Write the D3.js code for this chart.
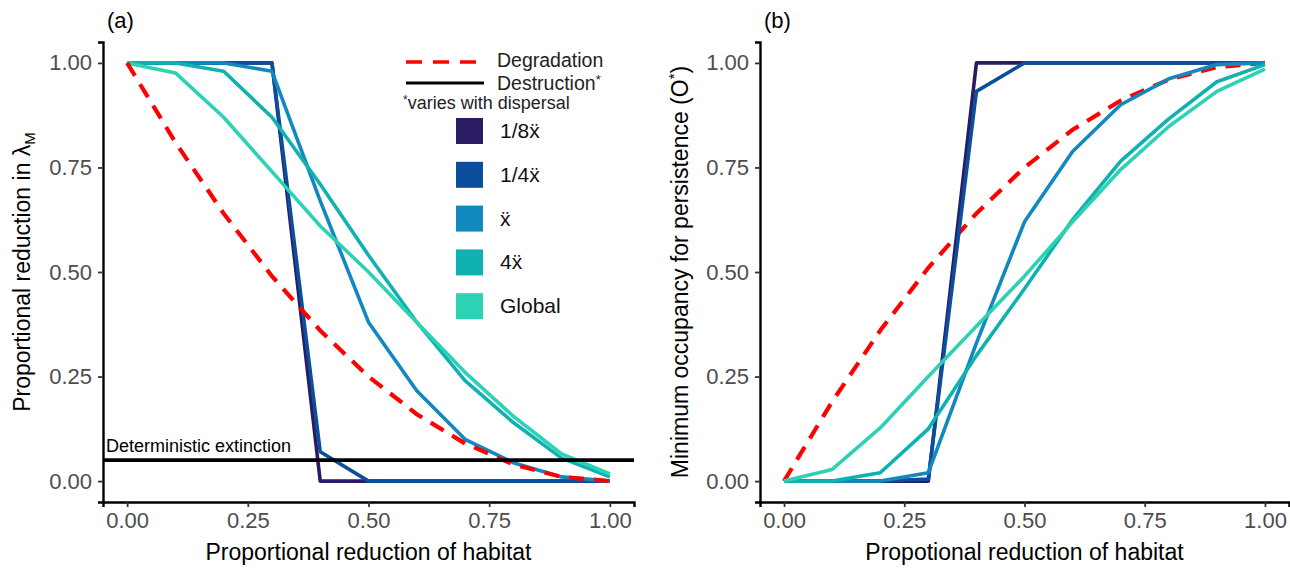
<!DOCTYPE html>
<html>
<head>
<meta charset="utf-8">
<script src="https://cdn.jsdelivr.net/npm/d3@7"></script>
<style>
  body { margin: 0; background: #fff; }
  text { font-family: "Liberation Sans", Arial, sans-serif; }
</style>
</head>
<body>
<svg id="chart" width="1290" height="568"></svg>
<script>
// proportion of habitat lost (x axis, both panels)
const habitatLoss = [0, 0.1, 0.2, 0.3, 0.4, 0.5, 0.6, 0.7, 0.8, 0.9, 1.0];

const dispersalLabels = ["1/8ẍ", "1/4ẍ", "ẍ", "4ẍ", "Global"];
const dispersalColors = ["#2a1b63", "#0b4f9c", "#1289be", "#0fb1b1", "#2dd1b4"];

// panel (a): proportional reduction in lambda_M
const lambdaEighth  = [1, 1, 1, 1, 0, 0, 0, 0, 0, 0, 0];
const lambdaQuarter = [1, 1, 1, 1, 0.07, 0, 0, 0, 0, 0, 0];
const lambdaMean    = [1, 1, 1, 0.98, 0.67, 0.38, 0.216, 0.1, 0.044, 0.01, 0];
const lambdaFour    = [1, 1, 0.98, 0.87, 0.71, 0.54, 0.38, 0.24, 0.14, 0.055, 0.01];
const lambdaGlobal  = [1, 0.976, 0.87, 0.74, 0.61, 0.5, 0.38, 0.26, 0.155, 0.065, 0.017];
const lambdaDegrad  = [1, 0.81, 0.64, 0.49, 0.36, 0.25, 0.16, 0.09, 0.04, 0.01, 0];

// panel (b): minimum occupancy for persistence O*
const occEighth  = [0, 0, 0, 0, 1, 1, 1, 1, 1, 1, 1];
const occQuarter = [0, 0, 0, 0.005, 0.932, 1, 1, 1, 1, 1, 1];
const occMean    = [0, 0, 0, 0.02, 0.33, 0.62, 0.788, 0.9, 0.962, 0.996, 1];
const occFour    = [0, 0, 0.02, 0.125, 0.3, 0.46, 0.625, 0.765, 0.866, 0.955, 0.996];
const occGlobal  = [0, 0.028, 0.127, 0.25, 0.37, 0.49, 0.62, 0.745, 0.848, 0.932, 0.985];
const occDegrad  = [0, 0.19, 0.36, 0.51, 0.64, 0.75, 0.84, 0.91, 0.96, 0.99, 1];

const extinctionLevel = 0.05;
const yTicks = [0, 0.25, 0.5, 0.75, 1];
const xTicks = [0, 0.25, 0.5, 0.75, 1];

const svg = d3.select("#chart");
const TOP = 42, BOTTOM = 502;

function drawPanel(opts) {
  const x = d3.scaleLinear().domain([-0.05, 1.05]).range(opts.xRange);
  const y = d3.scaleLinear().domain([-0.05, 1.05]).range([BOTTOM, TOP]);
  const g = svg.append("g");

  const line = d3.line().x((d, i) => x(habitatLoss[i])).y(d => y(d));

  function drawDegradation() {
    g.append("path")
      .datum(opts.degradation)
      .attr("d", line)
      .attr("fill", "none")
      .attr("stroke", "#ff0000")
      .attr("stroke-width", 4.2)
      .attr("stroke-dasharray", "15,10");
  }

  if (!opts.redOnTop) drawDegradation();

  // dispersal series
  opts.series.forEach((vals, k) => {
    g.append("path")
      .datum(vals)
      .attr("d", line)
      .attr("fill", "none")
      .attr("stroke", dispersalColors[k])
      .attr("stroke-width", 3.6)
      .attr("stroke-linejoin", "round");
  });

  if (opts.redOnTop) drawDegradation();

  if (opts.threshold) {
    g.append("line")
      .attr("x1", opts.xRange[0]).attr("x2", opts.xRange[1])
      .attr("y1", y(extinctionLevel)).attr("y2", y(extinctionLevel))
      .attr("stroke", "black").attr("stroke-width", 3.8);
    g.append("text")
      .attr("x", opts.xRange[0] + 3)
      .attr("y", y(extinctionLevel) - 8)
      .attr("font-size", 18)
      .text("Deterministic extinction");
  }

  // axes
  const yAxis = g.append("g")
    .attr("transform", `translate(${opts.xRange[0]},0)`)
    .call(d3.axisLeft(y).tickValues(yTicks).tickFormat(d3.format(".2f")).tickSize(5).tickPadding(6));
  const xAxis = g.append("g")
    .attr("transform", `translate(0,${BOTTOM})`)
    .call(d3.axisBottom(x).tickValues(xTicks).tickFormat(d3.format(".2f")).tickSize(5).tickPadding(5));
  [yAxis, xAxis].forEach(a => {
    a.select(".domain").attr("stroke", "black").attr("stroke-width", 2.4);
    a.selectAll(".tick line").attr("stroke", "#333").attr("stroke-width", 1.8);
    a.selectAll(".tick text").attr("fill", "#4d4d4d").attr("font-size", 22)
      .attr("font-family", "Liberation Sans, Arial, sans-serif");
  });

  // panel tag
  g.append("text").attr("x", opts.xRange[0] + 4).attr("y", 28)
    .attr("font-size", 22).text(opts.tag);

  // x title
  g.append("text")
    .attr("x", (x(0) + x(1)) / 2).attr("y", 560)
    .attr("text-anchor", "middle").attr("font-size", 23)
    .text(opts.xTitle);

  return { x, y, g };
}

const left = drawPanel({
  xRange: [103, 634],
  series: [lambdaEighth, lambdaQuarter, lambdaMean, lambdaFour, lambdaGlobal],
  degradation: lambdaDegrad,
  redOnTop: true,
  threshold: true,
  tag: "(a)",
  xTitle: "Proportional reduction of habitat"
});

const right = drawPanel({
  xRange: [760, 1289],
  series: [occEighth, occQuarter, occMean, occFour, occGlobal],
  degradation: occDegrad,
  redOnTop: false,
  threshold: false,
  tag: "(b)",
  xTitle: "Propotional reduction of habitat"
});

// y titles
const yl = svg.append("text")
  .attr("transform", "translate(30,272) rotate(-90)")
  .attr("text-anchor", "middle").attr("font-size", 23);
yl.append("tspan").text("Proportional reduction in λ");
yl.append("tspan").attr("font-size", 15).attr("dy", 5).text("M");

const yr = svg.append("text")
  .attr("transform", "translate(688,272) rotate(-90)")
  .attr("text-anchor", "middle").attr("font-size", 23);
yr.append("tspan").text("Minimum occupancy for persistence (O");
yr.append("tspan").attr("font-size", 15).attr("dy", -9).text("*");
yr.append("tspan").attr("dy", 9).text(")");

// legend
const lg = svg.append("g");
lg.append("line").attr("x1", 406).attr("x2", 484).attr("y1", 62).attr("y2", 62)
  .attr("stroke", "#ff0000").attr("stroke-width", 3.5).attr("stroke-dasharray", "16,11");
lg.append("text").attr("x", 497).attr("y", 67).attr("font-size", 19.5).attr("fill", "#222")
  .text("Degradation");
lg.append("line").attr("x1", 406).attr("x2", 484).attr("y1", 83).attr("y2", 83)
  .attr("stroke", "black").attr("stroke-width", 3);
const dl = lg.append("text").attr("x", 497).attr("y", 90).attr("font-size", 19.5).attr("fill", "#222");
dl.append("tspan").text("Destruction");
dl.append("tspan").attr("font-size", 13).attr("dy", -6).text("*");
const vl = lg.append("text").attr("x", 403).attr("y", 109).attr("font-size", 18).attr("fill", "#222");
vl.append("tspan").attr("font-size", 12).attr("dy", -5).text("*");
vl.append("tspan").attr("dy", 5).text("varies with dispersal");

dispersalLabels.forEach((lab, k) => {
  const top = 118 + k * 43.8;
  lg.append("rect").attr("x", 456).attr("y", top).attr("width", 27).attr("height", 26)
    .attr("fill", dispersalColors[k]);
  lg.append("text").attr("x", 500).attr("y", top + 20).attr("font-size", 21).attr("fill", "#111")
    .text(lab);
});
</script>
</body>
</html>
